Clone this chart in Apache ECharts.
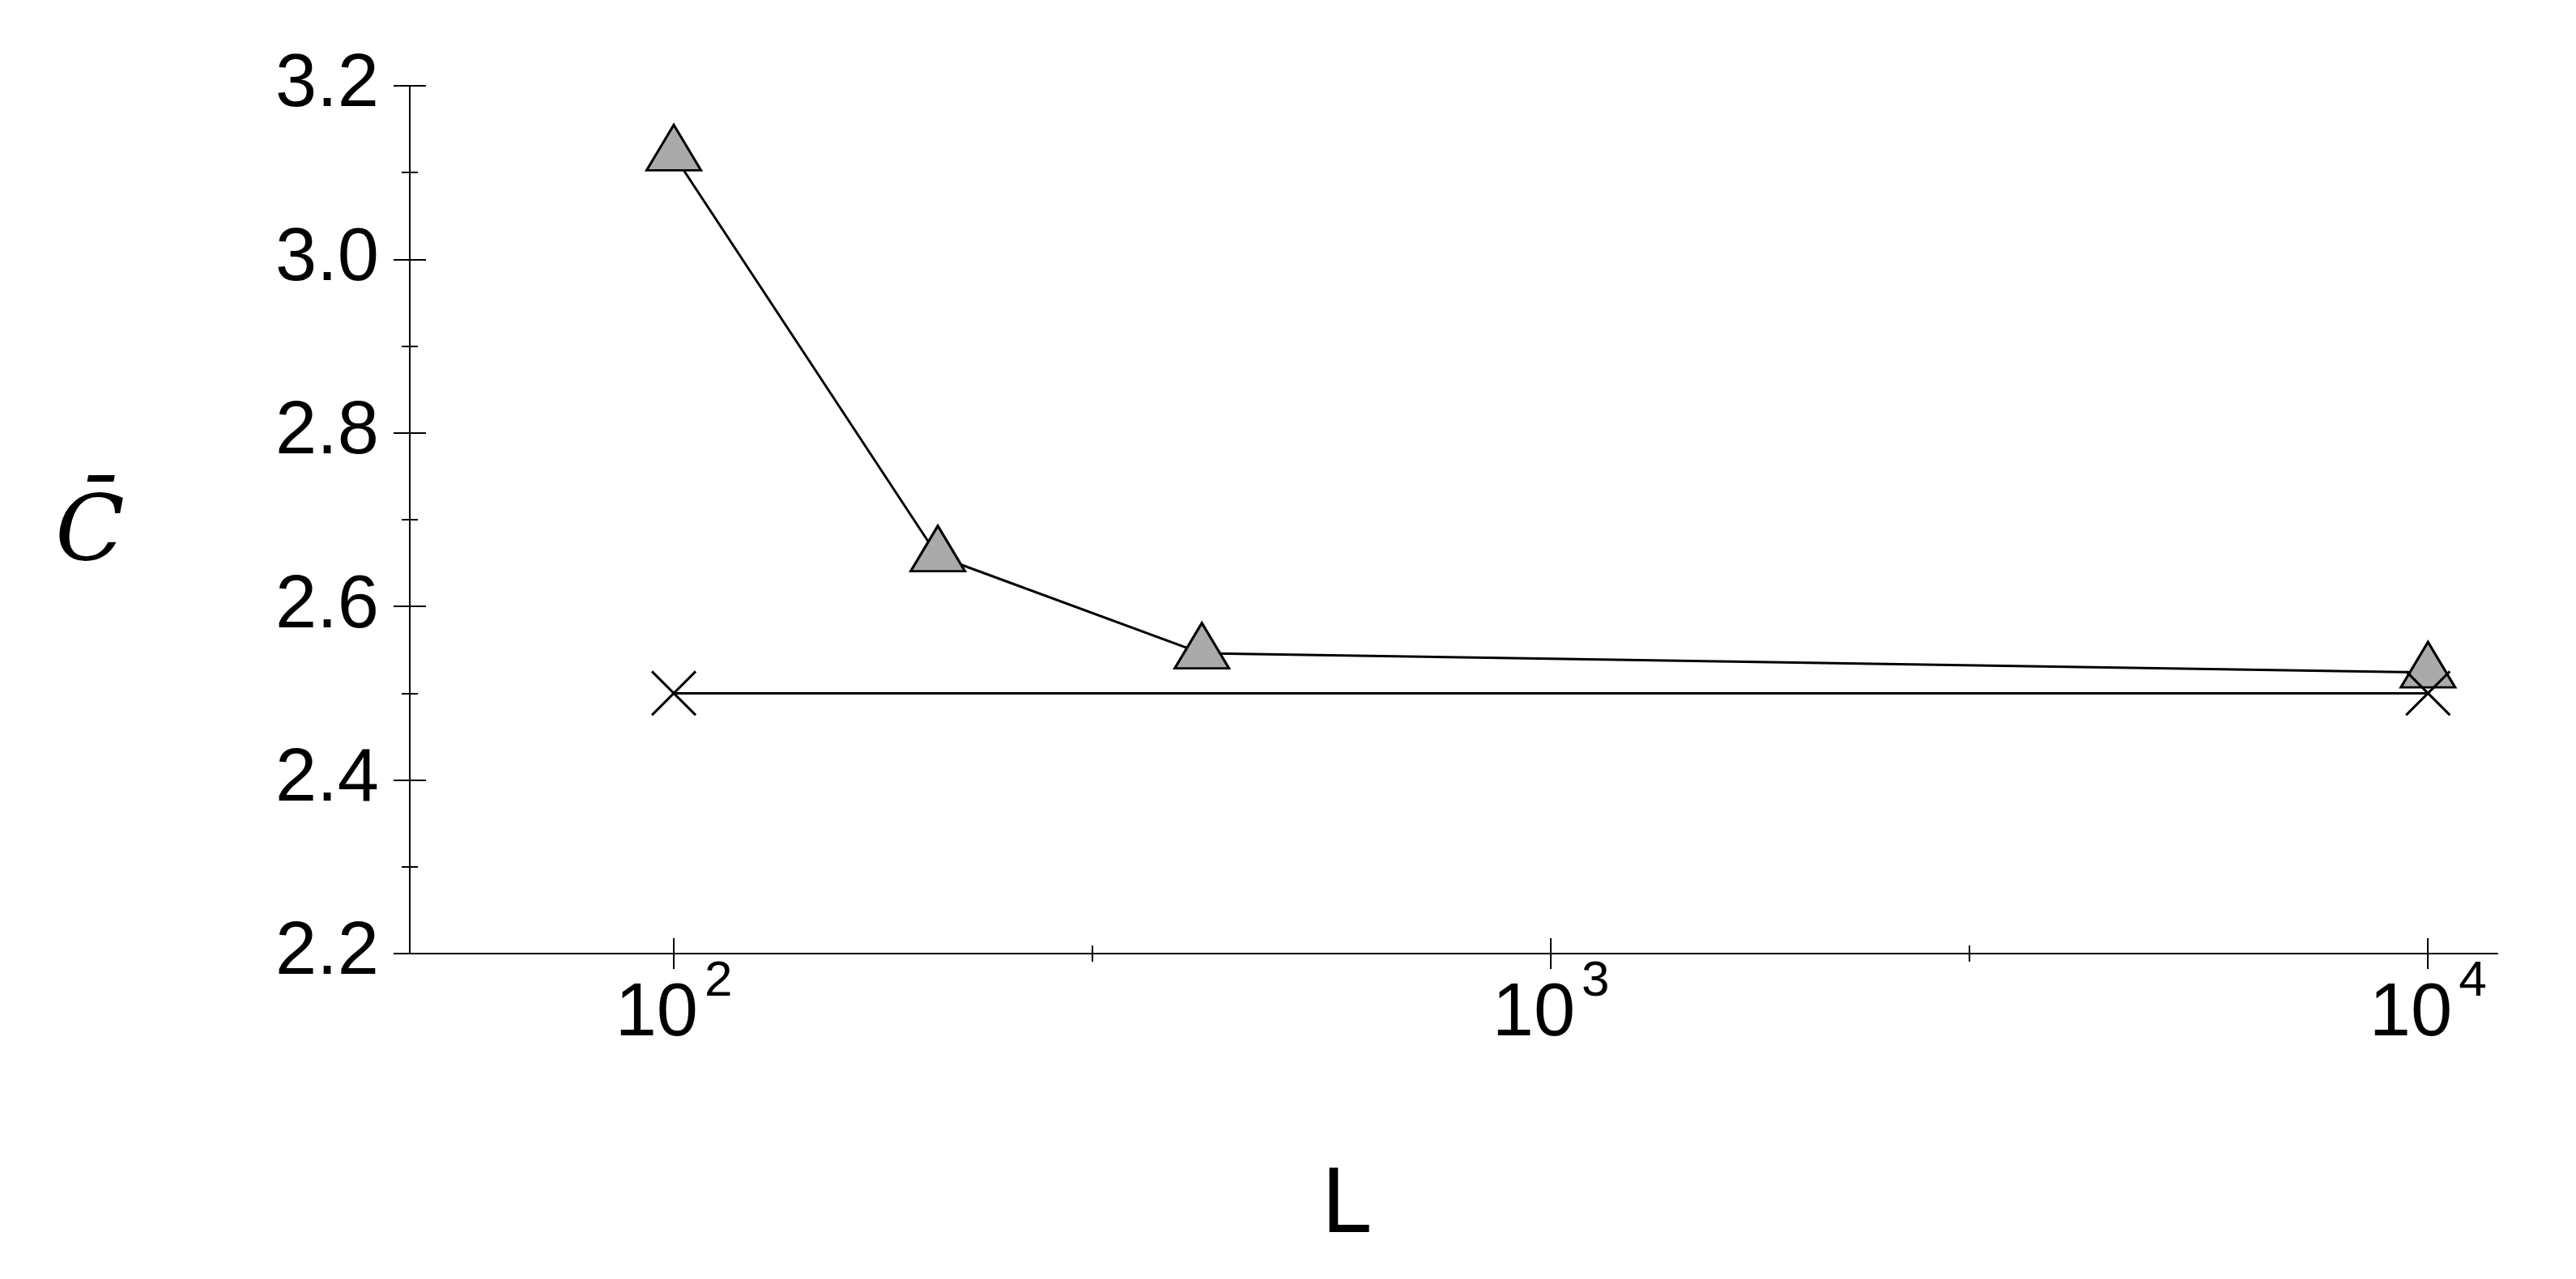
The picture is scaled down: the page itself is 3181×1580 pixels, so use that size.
<!DOCTYPE html>
<html>
<head>
<meta charset="utf-8">
<script src="https://cdn.jsdelivr.net/npm/echarts@6/dist/echarts.min.js"></script>
<style>
html,body{margin:0;padding:0;background:#fff;}
#chart{width:3181px;height:1580px;}
</style>
</head>
<body>
<div id="chart"></div>
<script>
// Data
const triL = [100, 200, 400, 10000];
const triC = [3.12, 2.658, 2.546, 2.524];
const crossL = [100, 10000];
const crossC = [2.5, 2.5];
const xMajorTicks = [100, 1000, 10000];
const xMinorTicks = [300, 3000];
const yTickLabels = ['2.2', '2.4', '2.6', '2.8', '3.0', '3.2'];

const X_MIN = 50, X_MAX = 12000;
const Y_MIN = 2.2, Y_MAX = 3.2, Y_INT = 0.2;

const LABEL_FONT = 'Liberation Sans, Arial, sans-serif';

function xAxisBase(extra) {
  return Object.assign({
    type: 'log',
    logBase: 10,
    min: X_MIN,
    max: X_MAX,
    position: 'bottom',
    gridIndex: 0,
    axisLine: { show: false, onZero: false },
    splitLine: { show: false },
    minorTick: { show: false },
    minorSplitLine: { show: false },
    axisLabel: { show: false },
    axisPointer: { show: false }
  }, extra);
}

function yAxisBase(extra) {
  return Object.assign({
    type: 'value',
    min: Y_MIN,
    max: Y_MAX,
    interval: Y_INT,
    position: 'left',
    gridIndex: 0,
    axisLine: { show: false, onZero: false },
    splitLine: { show: false },
    minorSplitLine: { show: false },
    axisLabel: { show: false }
  }, extra);
}

const chart = echarts.init(document.getElementById('chart'), null, { renderer: 'canvas' });

const option = {
  animation: false,
  backgroundColor: '#ffffff',
  grid: {
    left: 506, right: 97, top: 106, bottom: 402,
    containLabel: false,
    outerBoundsMode: 'none'
  },
  xAxis: [
    xAxisBase({
      name: 'L',
      nameLocation: 'middle',
      nameGap: 262,
      nameMoveOverlap: false,
      nameTextStyle: {
        fontFamily: 'DejaVu Sans, sans-serif',
        fontSize: 108,
        color: '#000',
        padding: [0, 268, 0, 0]
      },
      axisLine: { show: true, onZero: false, lineStyle: { color: '#000', width: 2 } },
      axisTick: { show: true, inside: false, length: 19, lineStyle: { color: '#000', width: 2 }, customValues: xMajorTicks },
      axisLabel: {
        show: true,
        margin: 30,
        customValues: xMajorTicks,
        formatter: function (v) {
          const e = Math.round(Math.log10(v));
          return '{b|10}{s|' + e + '}';
        },
        rich: {
          b: { fontFamily: LABEL_FONT, fontSize: 92, lineHeight: 92, color: '#000' },
          s: { fontFamily: LABEL_FONT, fontSize: 62, lineHeight: 62, color: '#000', padding: [0, 0, 82, 8] }
        }
      }
    }),
    xAxisBase({
      axisTick: { show: true, inside: true, length: 19, lineStyle: { color: '#000', width: 2 }, customValues: xMajorTicks }
    }),
    xAxisBase({
      axisTick: { show: true, inside: false, length: 10, lineStyle: { color: '#000', width: 2 }, customValues: xMinorTicks }
    }),
    xAxisBase({
      axisTick: { show: true, inside: true, length: 10, lineStyle: { color: '#000', width: 2 }, customValues: xMinorTicks }
    })
  ],
  yAxis: [
    yAxisBase({
      name: '{c|C\u0304}',
      nameLocation: 'middle',
      nameRotate: 0,
      nameGap: 352,
      nameMoveOverlap: false,
      nameTextStyle: {
        fontFamily: 'DejaVu Serif, serif',
        fontStyle: 'italic',
        fontSize: 112,
        color: '#000',
        rich: {
          c: {
            fontFamily: 'DejaVu Serif, serif',
            fontStyle: 'italic',
            fontSize: 112,
            lineHeight: 112,
            color: '#000',
            padding: [40, 0, 0, 0]
          }
        }
      },
      axisLine: { show: true, onZero: false, lineStyle: { color: '#000', width: 2 } },
      axisTick: { show: true, inside: false, length: 20, lineStyle: { color: '#000', width: 2 } },
      minorTick: { show: true, splitNumber: 2, length: 10, lineStyle: { color: '#000', width: 2 } },
      axisLabel: {
        show: true,
        margin: 38,
        fontFamily: LABEL_FONT,
        fontSize: 92,
        color: '#000',
        formatter: function (v) {
          const s = v.toFixed(1);
          return yTickLabels.indexOf(s) >= 0 ? s : '';
        }
      }
    }),
    yAxisBase({
      axisTick: { show: true, inside: true, length: 20, lineStyle: { color: '#000', width: 2 } },
      minorTick: { show: true, splitNumber: 2, length: 10, lineStyle: { color: '#000', width: 2 } }
    })
  ],
  series: [
    {
      type: 'line',
      xAxisIndex: 0,
      yAxisIndex: 0,
      data: triL.map((x, i) => [x, triC[i]]),
      symbol: 'triangle',
      symbolSize: [67, 56],
      symbolOffset: [0, -9.5],
      showAllSymbol: true,
      lineStyle: { color: '#000', width: 3 },
      itemStyle: { color: '#aaaaaa', borderColor: '#000', borderWidth: 3 },
      emphasis: { disabled: true },
      z: 2
    },
    {
      type: 'line',
      xAxisIndex: 0,
      yAxisIndex: 0,
      data: crossL.map((x, i) => [x, crossC[i]]),
      symbol: 'path://M0,0L54,54M54,0L0,54',
      symbolSize: 54,
      showAllSymbol: true,
      lineStyle: { color: '#000', width: 3 },
      itemStyle: { color: 'transparent', borderColor: '#000', borderWidth: 3 },
      emphasis: { disabled: true },
      z: 3
    }
  ]
};

chart.setOption(option);
</script>
</body>
</html>
